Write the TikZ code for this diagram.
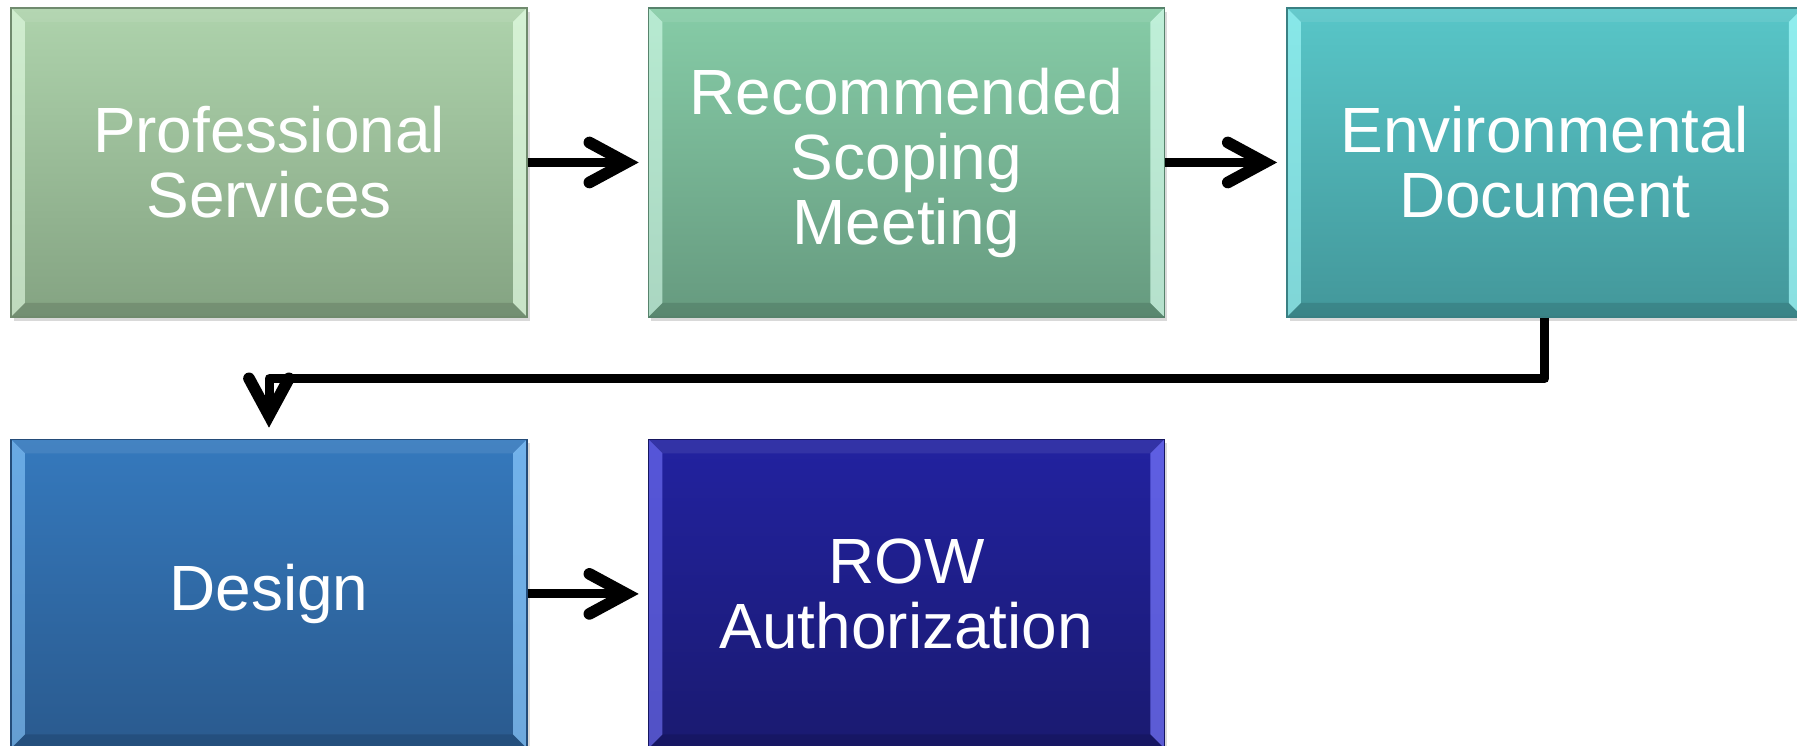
\documentclass[tikz,border=0pt]{standalone}
\usepackage{fontspec}
\setmainfont{Liberation Sans}
\usetikzlibrary{%
	positioning,%
	calc,%
	arrows.meta,%
	shadows
}
\definecolor{sage-top}{HTML}{AED3AC}
\definecolor{sage-bot}{HTML}{84A382}
\definecolor{sage-lt}{HTML}{E6FFE6}
\definecolor{mint-top}{HTML}{86CCA7}
\definecolor{mint-bot}{HTML}{669A7F}
\definecolor{mint-lt}{HTML}{D8FFEE}
\definecolor{teal-top}{HTML}{58C6C8}
\definecolor{teal-bot}{HTML}{43979A}
\definecolor{teal-lt}{HTML}{A8FFFF}
\definecolor{steel-top}{HTML}{3579BD}
\definecolor{steel-bot}{HTML}{2A5A8E}
\definecolor{steel-lt}{HTML}{8CCBFF}
\definecolor{navy-top}{HTML}{2222A0}
\definecolor{navy-bot}{HTML}{1A1A70}
\definecolor{navy-lt}{HTML}{7878FF}

\begin{document}
\begin{tikzpicture}[
		bevel/.style={path picture={
			% light side strips, shaded top and bottom
			\fill[#1,opacity=0.6] (path picture bounding box.north west) -- ([shift={(0.14,-0.14)}]path picture bounding box.north west)
				-- ([shift={(0.14,0.14)}]path picture bounding box.south west) -- (path picture bounding box.south west) -- cycle;
			\fill[#1,opacity=0.7] (path picture bounding box.north east) -- ([shift={(-0.14,-0.14)}]path picture bounding box.north east)
				-- ([shift={(-0.14,0.14)}]path picture bounding box.south east) -- (path picture bounding box.south east) -- cycle;
			\fill[white,opacity=0.08] (path picture bounding box.north west) -- ([shift={(0.14,-0.14)}]path picture bounding box.north west)
				-- ([shift={(-0.14,-0.14)}]path picture bounding box.north east) -- (path picture bounding box.north east) -- cycle;
			\fill[black,opacity=0.12] (path picture bounding box.south west) -- ([shift={(0.14,0.14)}]path picture bounding box.south west)
				-- ([shift={(-0.14,0.14)}]path picture bounding box.south east) -- (path picture bounding box.south east) -- cycle;
		}},
		stage/.style n args={3}{draw=#2!85!black, line width=0.4pt, top color=#1, bottom color=#2,
			minimum width=5.16cm, minimum height=3.09cm, inner sep=0pt, text=white, align=center,
			font=\fontsize{18.2}{18.5}\selectfont,
			drop shadow={shadow xshift=0.03cm, shadow yshift=-0.04cm, opacity=0.3},
			bevel=#3},
		flow/.style={line width=0.09cm, line join=round,
			-{Straight Barb[length=0.37cm, width=0.4cm, line width=0pt 1.3, line cap=round]}}
	]
	\useasboundingbox (0,0) rectangle (17.97,-7.46);

	% First row
	\node[stage={sage-top}{sage-bot}{sage-lt}] (prof) at (2.69,-1.625) {Professional\\Services};
	\node[stage={mint-top}{mint-bot}{mint-lt}] (scoping) [right=1.2cm of prof] {Recommended\\Scoping\\Meeting};
	\node[stage={teal-top}{teal-bot}{teal-lt}] (envdoc) [right=1.21cm of scoping] {Environmental\\Document};

	% Second row
	\node[stage={steel-top}{steel-bot}{steel-lt}] (design) [below=1.21cm of prof] {Design};
	\node[stage={navy-top}{navy-bot}{navy-lt}] (rowauth) [right=1.2cm of design] {ROW\\Authorization};

	% Connectors
	\draw[flow, shorten >=0.09cm] (prof) -- (scoping);
	\draw[flow, shorten >=0.09cm] (scoping) -- (envdoc);
	\draw[flow, shorten >=0.11cm] (envdoc.south) -- ++(0,-0.61) -| (design.north);
	\draw[flow, shorten >=0.09cm] (design) -- (rowauth);

\end{tikzpicture}
\end{document}
